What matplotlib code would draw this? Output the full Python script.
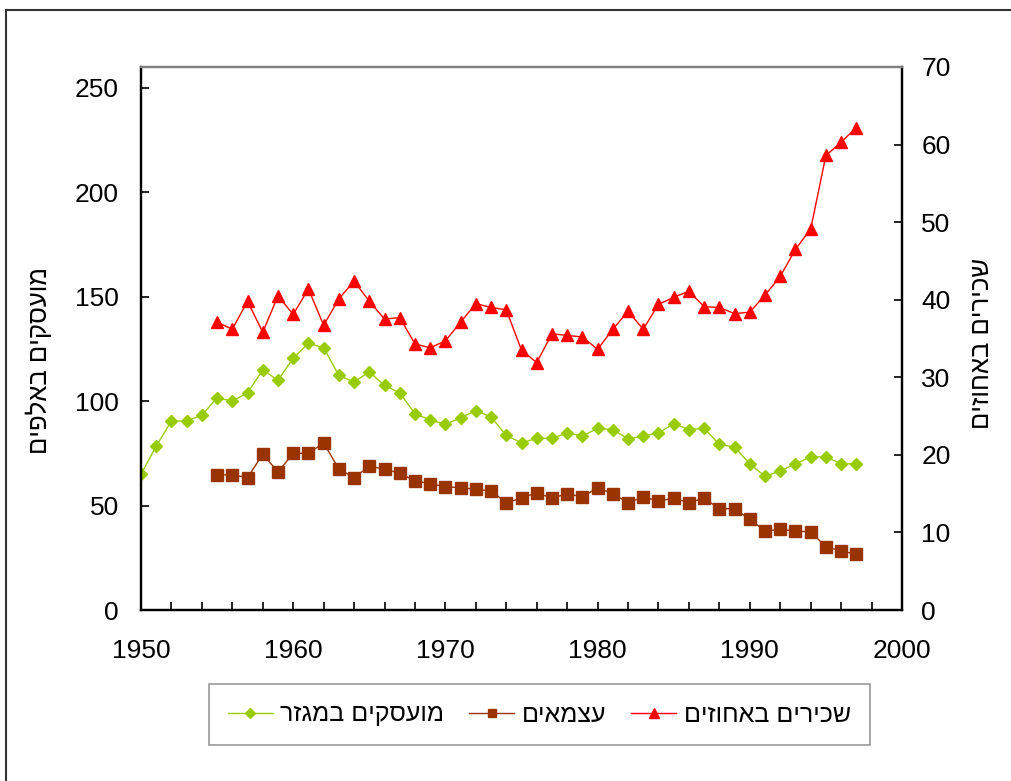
import matplotlib
matplotlib.use("Agg")
import matplotlib.pyplot as plt
from matplotlib.lines import Line2D
from matplotlib.ticker import MultipleLocator

plt.rcParams["font.family"] = ["Liberation Sans", "DejaVu Sans"]

# employed in the sector (thousands), 1950-1997
years_emp = list(range(1950, 1998))
employed = [65, 78.5, 90.5, 90.5, 93.3, 101.6, 100, 104, 115, 110,
            120.6, 127.7, 125.6, 112.3, 109.2, 114, 107.5, 104, 94, 91,
            89, 92, 95.5, 92.4, 83.6, 80, 82.2, 82.2, 84.8, 83.3,
            87, 86.4, 82, 83.3, 84.8, 89.2, 86.4, 87, 79.3, 78,
            70, 64, 66.6, 70, 73.3, 73.3, 70, 70]

# self-employed (thousands), 1955-1997
years_self = list(range(1955, 1998))
self_emp = [64.7, 64.7, 63.4, 74.6, 66.1, 75, 75, 80, 67.5, 63.4,
            68.8, 67.5, 65.5, 61.8, 60.5, 59, 58.6, 57.8, 57, 51.4,
            53.5, 56.2, 53.5, 55.7, 54.1, 58.6, 55.7, 51.4, 54.1, 52.2,
            53.5, 51.4, 53.5, 48.5, 48.5, 43.4, 37.8, 38.6, 37.8, 37.4,
            30.3, 28.3, 26.7]

# salaried employees (percent), 1955-1997
years_sal = list(range(1955, 1998))
salaried = [37.1, 36.2, 39.8, 35.8, 40.5, 38.1, 41.4, 36.7, 40.1, 42.4,
            39.8, 37.5, 37.7, 34.3, 33.8, 34.7, 37.1, 39.5, 39, 38.7,
            33.5, 31.9, 35.6, 35.4, 35.2, 33.6, 36.2, 38.5, 36.2, 39.4,
            40.3, 41.1, 39.1, 39, 38.2, 38.4, 40.6, 43, 46.5, 49.1,
            58.6, 60.3, 62.2]

labels = ["מועסקים במגזר", "עצמאים", "שכירים באחוזים"]
ylabel_left = "מועסקים באלפים"
ylabel_right = "שכירים באחוזים"


def rtl(s):
    # matplotlib has no bidi support, so flip Hebrew into visual order
    return s[::-1]


fig = plt.figure(figsize=(10.12, 7.81), dpi=100)
ax = fig.add_axes([141 / 1012, 1 - 610 / 781, 761 / 1012, 543 / 781])
ax2 = ax.twinx()

l1, = ax.plot(years_emp, employed, color="#99CC00", lw=1.0, marker="D",
              ms=6.5, mec="#99CC00", label=rtl(labels[0]))
l2, = ax.plot(years_self, self_emp, color="#993300", lw=1.0, marker="s",
              ms=8, mec="#993300", label=rtl(labels[1]))
l3, = ax2.plot(years_sal, salaried, color="#FF0000", lw=1.0, marker="^",
               ms=9, mec="#FF0000", label=rtl(labels[2]))

ax.set_xlim(1950, 2000)
ax.set_ylim(0, 260)
ax2.set_ylim(0, 70)
ax.xaxis.set_major_locator(MultipleLocator(10))
ax.xaxis.set_minor_locator(MultipleLocator(2))
ax.yaxis.set_major_locator(MultipleLocator(50))
ax2.yaxis.set_major_locator(MultipleLocator(10))

ax.tick_params(axis="x", which="both", direction="in", length=6, width=1.2,
               labelsize=19, pad=21)
ax.tick_params(axis="y", direction="in", length=6, width=1.2,
               labelsize=19, pad=16)
ax2.tick_params(axis="y", direction="in", length=6, width=1.2,
                labelsize=19, pad=14)

for a in (ax, ax2):
    for side in ("left", "right", "bottom"):
        a.spines[side].set_linewidth(1.6)
        a.spines[side].set_color("black")
    a.spines["top"].set_linewidth(1.6)
    a.spines["top"].set_color("#808080")

ax.set_ylabel(rtl(ylabel_left), fontsize=18.5, rotation=90)
ax.yaxis.set_label_coords(-0.117, 0.46)
ax2.set_ylabel(rtl(ylabel_right), fontsize=18.5, rotation=90)
ax2.yaxis.set_label_coords(1.09, 0.49)

leg = fig.legend(handles=[l1, l2, l3], ncol=3, loc="center",
                 bbox_to_anchor=(539.5 / 1012, 1 - 714.5 / 781),
                 fontsize=18, frameon=True, fancybox=False,
                 edgecolor="#808080", handlelength=1.8, handletextpad=0.3,
                 columnspacing=1.0, borderpad=0.75, borderaxespad=0,
                 markerscale=0.75)
leg.get_frame().set_linewidth(1.2)

# outer chart frame (only left and top edges are visible)
fig.add_artist(Line2D([6 / 1012, 6 / 1012], [0, 1 - 10 / 781],
                      transform=fig.transFigure, color="#333333", lw=1.5))
fig.add_artist(Line2D([6 / 1012, 1], [1 - 10 / 781, 1 - 10 / 781],
                      transform=fig.transFigure, color="#333333", lw=1.5))

fig.savefig("out.png", dpi=100)
